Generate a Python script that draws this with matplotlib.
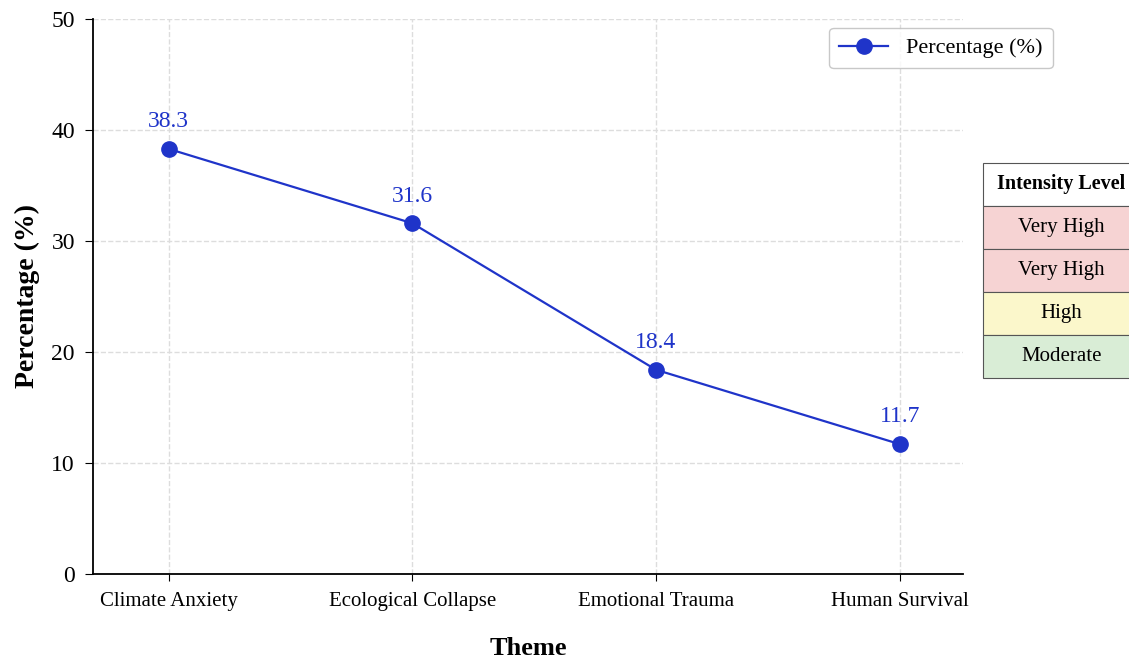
import matplotlib
matplotlib.use("Agg")
import matplotlib.pyplot as plt

themes = ["Climate Anxiety", "Ecological Collapse", "Emotional Trauma", "Human Survival"]
percentages = [38.3, 31.6, 18.4, 11.7]
table_header = ["Intensity Level"]
intensity_levels = ["Very High", "Very High", "High", "Moderate"]
level_colors = {"Very High": "#f6d3d3", "High": "#fbf7cb", "Moderate": "#d9edd6"}

plt.rcParams['font.family'] = ['Liberation Serif', 'DejaVu Serif']

fig = plt.figure(figsize=(11.29, 6.61), dpi=100)
ax = fig.add_axes([93/1129, 1-574/661, 870/1129, 555/661])

color = "#1f34c9"
x = list(range(len(themes)))
ax.plot(x, percentages, color=color, marker='o', markersize=11, linewidth=1.6, label="Percentage (%)")
for xi, v in zip(x, percentages):
    ax.annotate(f"{v:.1f}", (xi, v), xytext=(0, 12), textcoords='offset points',
                ha='center', va='bottom', color=color, fontsize=17)

ax.set_xlim(-0.31, 3.26)
ax.set_ylim(0, 50)
ax.set_xticks(x)
ax.set_xticklabels(themes, fontsize=15)
ax.set_yticks([0, 10, 20, 30, 40, 50])
ax.tick_params(axis='y', labelsize=17, length=6, pad=7)
ax.tick_params(axis='x', length=5, pad=8)
ax.grid(True, linestyle='--', color='#dddddd', linewidth=1)
ax.set_axisbelow(True)
for s in ['top', 'right']:
    ax.spines[s].set_visible(False)
for s in ['left', 'bottom']:
    ax.spines[s].set_linewidth(1.3)

ax.set_ylabel("Percentage (%)", fontsize=20, fontweight='bold', labelpad=8)
ax.set_xlabel("Theme", fontsize=19, fontweight='bold', labelpad=19)

leg = ax.legend(loc='upper right', bbox_to_anchor=(1.103, 0.984), borderaxespad=0,
                fontsize=16, frameon=True, fancybox=True, borderpad=0.45, handlelength=2.2)
leg.get_frame().set_edgecolor('#bbbbbb')

cell_text = [[t] for t in table_header] + [[l] for l in intensity_levels]
cell_colors = [["white"]] + [[level_colors[l]] for l in intensity_levels]
tbl = ax.table(cellText=cell_text, cellColours=cell_colors, cellLoc='center',
               bbox=[1.023, 0.353, 0.18, 0.388])
tbl.auto_set_font_size(False)
tbl.set_fontsize(15)
for (r, c), cell in tbl.get_celld().items():
    cell.set_edgecolor('#555555')
    cell.set_linewidth(0.8)
    if r == 0:
        cell.get_text().set_fontweight('bold')
        cell.get_text().set_fontsize(14.5)

fig.savefig("out.png", dpi=100, facecolor='white')
